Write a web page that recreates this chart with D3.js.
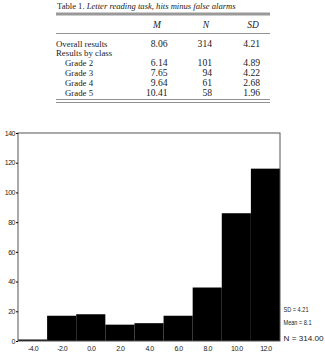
<!DOCTYPE html>
<html>
<head>
<meta charset="utf-8">
<script src="https://d3js.org/d3.v7.min.js"></script>
<style>
body{margin:0;background:#fff;}
svg{display:block;}
</style>
</head>
<body>
<div id="chart"></div>
<script>
// table data
var tableTitle = "Letter reading task, hits minus false alarms";
var colHeads = ["M", "N", "SD"];
var rowLabels = ["Overall results", "Results by class", "Grade 2", "Grade 3", "Grade 4", "Grade 5"];
var rowIndent = [0, 0, 1, 1, 1, 1];
var meanVals = ["8.06", "", "6.14", "7.65", "9.64", "10.41"];
var nVals = ["314", "", "101", "94", "61", "58"];
var sdVals = ["4.21", "", "4.89", "4.22", "2.68", "1.96"];

// histogram data
var binCenters = [-4, -2, 0, 2, 4, 6, 8, 10, 12];
var counts = [1, 17, 18, 11, 12, 17, 36, 86, 116];
var binWidth = 2;
var yTicks = [0, 20, 40, 60, 80, 100, 120, 140];
var xTickLabels = ["-4.0", "-2.0", "0.0", "2.0", "4.0", "6.0", "8.0", "10.0", "12.0"];
var statLines = ["SD = 4.21", "Mean = 8.1", "N = 314.00"];

var W = 325, H = 357;
var svg = d3.select("#chart").append("svg").attr("width", W).attr("height", H);

// ---- table ----
var tl = 56, tr = 270;
var serif = "Liberation Serif, Times New Roman, serif";
var t = svg.append("g").style("font-family", serif).attr("fill", "#222");

var title = t.append("text").attr("x", 57).attr("y", 8.5).style("font-size", "8.6px");
title.append("tspan").text("Table 1. ");
title.append("tspan").style("font-style", "italic").text(tableTitle);

t.append("rect").attr("x", tl).attr("y", 12.5).attr("width", tr - tl).attr("height", 3).attr("fill", "#999");

var colX = [157, 206, 253];
t.selectAll(".head").data(colHeads).enter().append("text")
  .attr("x", (d, i) => colX[i]).attr("y", 28).style("font-size", "9.5px")
  .attr("text-anchor", "middle").style("font-style", "italic").text(d => d);

t.append("line").attr("x1", tl).attr("x2", tr).attr("y1", 33.5).attr("y2", 33.5).attr("stroke", "#777").attr("stroke-width", 0.8);

var rowY = [46.5, 56, 66, 76, 86, 96];
t.selectAll(".lab").data(rowLabels).enter().append("text")
  .attr("x", (d, i) => rowIndent[i] ? 65 : 56).attr("y", (d, i) => rowY[i])
  .style("font-size", "8.8px").text(d => d);

var numRight = [167.5, 212, 260];
[meanVals, nVals, sdVals].forEach(function(vals, c) {
  t.selectAll(".c" + c).data(vals).enter().append("text")
    .attr("x", numRight[c]).attr("y", (d, i) => rowY[i]).style("font-size", "9.6px")
    .attr("text-anchor", "end").text(d => d);
});

t.append("line").attr("x1", tl).attr("x2", tr).attr("y1", 99.5).attr("y2", 99.5).attr("stroke", "#777").attr("stroke-width", 0.8);
t.append("line").attr("x1", tl).attr("x2", tr).attr("y1", 102.5).attr("y2", 102.5).attr("stroke", "#777").attr("stroke-width", 0.8);

// ---- histogram ----
var x = d3.scaleLinear().domain([-5, 13]).range([18, 280]);
var y = d3.scaleLinear().domain([0, 140]).range([341, 133]);

var g = svg.append("g");
var sans = "Liberation Sans, Arial, sans-serif";

g.selectAll("rect.bar").data(counts).enter().append("rect")
  .attr("class", "bar")
  .attr("x", (d, i) => x(binCenters[i] - binWidth / 2))
  .attr("width", (d, i) => x(binCenters[i] + binWidth / 2) - x(binCenters[i] - binWidth / 2))
  .attr("y", d => y(d))
  .attr("height", d => y(0) - y(d))
  .attr("fill", "#000");

// frame
g.append("rect").attr("x", x(-5)).attr("y", y(140)).attr("width", x(13) - x(-5)).attr("height", y(0) - y(140))
  .attr("fill", "none").attr("stroke", "#555").attr("stroke-width", 1);

var yAxis = d3.axisLeft(y).tickValues(yTicks).tickSize(2).tickPadding(1).tickFormat(d3.format("d"));
var ya = g.append("g").attr("transform", "translate(" + x(-5) + ",0)").call(yAxis);
ya.select(".domain").remove();
ya.selectAll("text").style("font-family", sans).style("font-size", "7px").style("letter-spacing", "-0.5px").attr("fill", "#222");

var xAxis = d3.axisBottom(x).tickValues(binCenters).tickSize(0).tickPadding(5)
  .tickFormat((d, i) => xTickLabels[i]);
var xa = g.append("g").attr("transform", "translate(0," + y(0) + ")").call(xAxis);
xa.select(".domain").remove();
xa.selectAll("text").style("font-family", sans).style("font-size", "7px").style("letter-spacing", "-0.5px").attr("fill", "#222");

// stats box text, squeezed like the original scan
var statWidth = [25, 28, 40];
var statY = [311.5, 325, 341];
g.selectAll("text.stat").data(statLines).enter().append("text")
  .attr("class", "stat")
  .attr("x", 283.5).attr("y", (d, i) => statY[i])
  .attr("textLength", (d, i) => statWidth[i]).attr("lengthAdjust", "spacingAndGlyphs")
  .style("font-family", sans).style("font-size", "8px").attr("fill", "#222")
  .text(d => d);
</script>
</body>
</html>
